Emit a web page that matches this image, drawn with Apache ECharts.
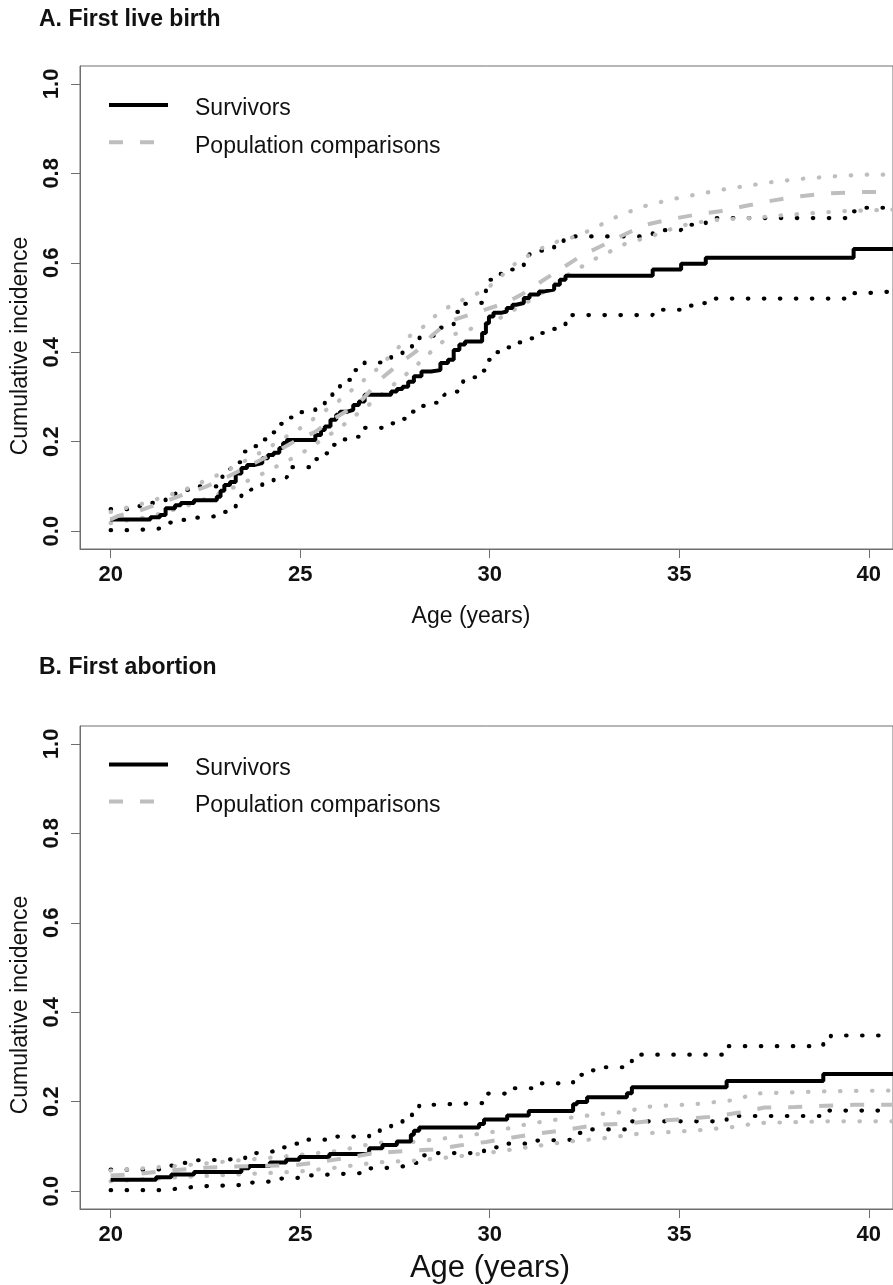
<!DOCTYPE html>
<html><head><meta charset="utf-8">
<script src="https://cdn.jsdelivr.net/npm/echarts@6/dist/echarts.min.js"></script>
<style>html,body{margin:0;padding:0;background:#fff}#c{width:893px;height:1285px}</style>
</head><body><div id="c"></div><script>
// ---- tick labels ----
const ageTicks = [20, 25, 30, 35, 40];
const incTicks = [0, 0.2, 0.4, 0.6, 0.8, 1.0];
const panelTitles = ['A. First live birth', 'B. First abortion'];
const seriesNames = ['Survivors', 'Population comparisons'];

// ---- Panel A: first live birth ----
const aSurvivors = [[20.0,0.026],[21.05,0.031],[21.3,0.036],[21.45,0.051],[21.7,0.058],[21.85,0.063],[22.2,0.069],[22.8,0.077],[22.9,0.090],[23.0,0.103],[23.15,0.110],[23.3,0.129],[23.45,0.141],[23.6,0.148],[23.8,0.152],[24.0,0.163],[24.15,0.170],[24.3,0.175],[24.45,0.186],[24.55,0.197],[24.65,0.204],[25.4,0.215],[25.55,0.226],[25.65,0.234],[25.8,0.249],[25.95,0.260],[26.05,0.267],[26.25,0.271],[26.4,0.282],[26.55,0.290],[26.7,0.305],[27.4,0.312],[27.55,0.318],[27.7,0.323],[27.85,0.334],[28.0,0.346],[28.2,0.357],[28.45,0.360],[28.7,0.376],[28.9,0.383],[29.05,0.405],[29.2,0.417],[29.35,0.424],[29.8,0.443],[29.9,0.465],[29.98,0.480],[30.1,0.488],[30.3,0.491],[30.45,0.499],[30.6,0.506],[30.7,0.510],[30.9,0.521],[31.05,0.529],[31.3,0.536],[31.45,0.540],[31.7,0.551],[31.85,0.562],[32.0,0.571],[34.3,0.585],[35.05,0.598],[35.7,0.611],[39.6,0.631],[40.64,0.631]];
const aSurvUpper = [[20.0,0.049],[20.7,0.056],[21.05,0.063],[21.45,0.078],[21.7,0.084],[21.85,0.092],[22.2,0.100],[22.8,0.108],[22.95,0.125],[23.15,0.140],[23.3,0.154],[23.45,0.178],[23.65,0.190],[23.9,0.205],[24.15,0.221],[24.45,0.240],[24.6,0.254],[24.85,0.266],[25.4,0.282],[25.65,0.301],[25.85,0.322],[26.05,0.338],[26.4,0.360],[26.7,0.377],[27.4,0.392],[27.7,0.402],[27.95,0.419],[28.15,0.437],[28.7,0.455],[29.05,0.490],[29.3,0.508],[29.35,0.511],[29.9,0.562],[30.1,0.575],[30.45,0.585],[30.7,0.594],[30.9,0.614],[31.05,0.627],[31.7,0.644],[31.95,0.659],[34.3,0.673],[35.05,0.685],[35.7,0.700],[39.6,0.715],[39.9,0.723],[40.64,0.723]];
const aSurvLower = [[20.0,0.002],[20.5,0.004],[21.0,0.006],[21.3,0.010],[21.45,0.019],[21.75,0.025],[22.1,0.030],[22.5,0.034],[22.8,0.043],[23.1,0.052],[23.3,0.069],[23.45,0.084],[23.7,0.093],[24.0,0.107],[24.3,0.120],[24.65,0.143],[25.4,0.161],[25.6,0.174],[25.8,0.193],[26.05,0.205],[26.4,0.211],[26.6,0.231],[27.4,0.241],[27.65,0.251],[27.9,0.267],[28.15,0.280],[28.5,0.287],[28.8,0.305],[29.1,0.312],[29.3,0.336],[29.55,0.344],[29.8,0.359],[29.95,0.383],[30.15,0.400],[30.45,0.411],[30.7,0.422],[31.0,0.431],[31.3,0.443],[31.55,0.452],[31.85,0.461],[32.0,0.483],[34.3,0.495],[35.05,0.504],[35.35,0.510],[35.7,0.520],[39.6,0.532],[39.9,0.536],[40.64,0.536]];
const aPopulation = [[20.0,0.026],[20.2,0.034],[20.8,0.047],[21.3,0.062],[21.9,0.081],[22.5,0.099],[23.1,0.122],[23.7,0.148],[24.3,0.174],[24.9,0.203],[25.4,0.222],[25.8,0.247],[26.27,0.271],[26.65,0.295],[27.1,0.338],[27.58,0.372],[28.06,0.402],[28.5,0.439],[28.93,0.469],[29.72,0.491],[30.42,0.510],[30.9,0.532],[31.43,0.562],[31.91,0.588],[32.4,0.615],[32.93,0.637],[33.5,0.661],[34.1,0.685],[34.76,0.697],[35.46,0.708],[36.07,0.715],[36.8,0.728],[37.45,0.739],[38.2,0.749],[38.92,0.755],[39.66,0.758],[40.64,0.758]];
const aPopUpper = [[20.0,0.043],[21.0,0.065],[22.0,0.094],[23.0,0.132],[24.0,0.178],[25.0,0.230],[26.0,0.290],[27.0,0.360],[27.9,0.437],[28.3,0.460],[28.66,0.489],[29.1,0.510],[29.5,0.525],[29.9,0.540],[30.3,0.570],[30.7,0.600],[31.3,0.630],[31.8,0.648],[32.36,0.661],[33.4,0.705],[34.05,0.726],[34.75,0.741],[35.46,0.753],[36.17,0.764],[36.86,0.773],[37.57,0.782],[38.27,0.788],[39.02,0.793],[39.81,0.797],[40.64,0.797]];
const aPopLower = [[20.0,0.018],[21.0,0.032],[22.0,0.056],[23.0,0.088],[24.0,0.128],[25.0,0.172],[26.0,0.228],[27.0,0.295],[28.0,0.365],[28.5,0.405],[28.95,0.437],[29.6,0.455],[30.2,0.473],[30.95,0.510],[31.6,0.545],[32.1,0.575],[32.74,0.607],[33.57,0.642],[34.32,0.661],[35.0,0.682],[35.8,0.695],[36.84,0.700],[38.0,0.708],[39.2,0.715],[40.64,0.719]];

// ---- Panel B: first abortion ----
const bSurvivors = [[20.0,0.0255],[21.2,0.031],[21.6,0.037],[22.2,0.043],[23.45,0.051],[23.65,0.056],[24.2,0.064],[24.63,0.070],[24.98,0.076],[25.77,0.083],[26.82,0.096],[27.17,0.103],[27.55,0.111],[27.92,0.126],[28.0,0.135],[28.14,0.142],[29.72,0.150],[29.85,0.160],[30.46,0.169],[31.03,0.179],[32.2,0.194],[32.3,0.199],[32.57,0.210],[33.62,0.219],[33.75,0.232],[36.25,0.246],[38.8,0.262],[40.64,0.262]];
const bSurvUpper = [[20.0,0.048],[21.2,0.050],[21.55,0.057],[21.85,0.063],[22.2,0.069],[22.55,0.072],[23.55,0.085],[23.95,0.089],[24.3,0.098],[24.65,0.106],[24.98,0.115],[25.77,0.122],[26.82,0.132],[27.1,0.142],[27.4,0.151],[27.7,0.161],[27.95,0.174],[28.14,0.193],[28.5,0.197],[29.85,0.218],[30.6,0.230],[31.3,0.241],[32.2,0.260],[32.5,0.270],[32.8,0.277],[33.55,0.285],[33.75,0.305],[36.25,0.324],[38.8,0.334],[39.0,0.348],[40.64,0.348]];
const bSurvLower = [[20.0,0.002],[21.2,0.004],[21.6,0.007],[21.95,0.0105],[22.3,0.014],[23.55,0.019],[23.9,0.022],[24.25,0.028],[24.63,0.030],[24.98,0.035],[25.4,0.037],[25.77,0.041],[26.82,0.051],[27.17,0.054],[27.55,0.057],[27.92,0.063],[28.14,0.080],[28.5,0.085],[29.85,0.098],[30.46,0.106],[31.03,0.113],[31.4,0.115],[32.2,0.118],[32.3,0.130],[32.57,0.138],[33.75,0.156],[36.25,0.168],[38.8,0.180],[40.64,0.180]];
const bPopulation = [[20.0,0.035],[20.8,0.039],[21.3,0.044],[22.4,0.052],[23.2,0.055],[24.85,0.058],[25.5,0.065],[26.2,0.074],[26.95,0.085],[27.7,0.089],[28.5,0.093],[29.2,0.102],[29.9,0.110],[30.6,0.120],[31.3,0.129],[32.0,0.137],[32.8,0.148],[33.6,0.151],[34.3,0.157],[35.0,0.160],[35.8,0.166],[36.55,0.175],[37.25,0.187],[38.05,0.188],[38.85,0.191],[39.6,0.193],[40.64,0.193]];
const bPopUpper = [[20.0,0.046],[21.0,0.052],[22.0,0.058],[23.0,0.066],[24.0,0.073],[25.0,0.081],[26.0,0.090],[27.0,0.108],[28.0,0.110],[29.0,0.120],[30.0,0.131],[31.0,0.150],[32.0,0.163],[33.0,0.173],[33.7,0.178],[34.0,0.188],[35.5,0.195],[36.6,0.205],[36.9,0.218],[38.8,0.223],[40.64,0.225]];
const bPopLower = [[20.0,0.022],[21.0,0.027],[22.0,0.032],[23.0,0.036],[24.0,0.040],[25.0,0.044],[26.0,0.053],[27.0,0.064],[28.0,0.068],[29.0,0.076],[30.0,0.086],[31.0,0.098],[32.0,0.110],[33.0,0.118],[33.9,0.128],[35.5,0.136],[36.65,0.145],[36.96,0.152],[38.9,0.156],[40.64,0.156]];

const FONT = '"Liberation Sans", Arial, Helvetica, sans-serif';
const GREY = '#bebebe';
const BOX = '#6e6e6e';

function makeSeries(idx, surv, su, sl, pop, pu, pl) {
  const dots = (c) => ({ color: c, width: 4.2, type: [0.5, 15.5], cap: 'round' });
  const common = { xAxisIndex: idx, yAxisIndex: idx, symbol: 'none', silent: true, animation: false };
  return [
    Object.assign({ type: 'line', name: 'CI ' + idx + ' su', data: su, step: 'end', lineStyle: dots('#000'), z: 2 }, common),
    Object.assign({ type: 'line', name: 'CI ' + idx + ' sl', data: sl, step: 'end', lineStyle: dots('#000'), z: 2 }, common),
    Object.assign({ type: 'line', name: 'CI ' + idx + ' pu', data: pu, lineStyle: dots(GREY), z: 3 }, common),
    Object.assign({ type: 'line', name: 'CI ' + idx + ' pl', data: pl, lineStyle: dots(GREY), z: 3 }, common),
    Object.assign({ type: 'line', name: seriesNames[0], data: surv, step: 'end', lineStyle: { color: '#000', width: 4 }, itemStyle: { color: '#000' }, z: 4 }, common),
    Object.assign({ type: 'line', name: seriesNames[1], data: pop, lineStyle: { color: GREY, width: 4, type: [14, 17] }, itemStyle: { color: GREY }, z: 5 }, common)
  ];
}

function xAx(idx) {
  return {
    gridIndex: idx, type: 'value', min: 19.192, max: 40.639, position: 'bottom',
    axisLine: { show: true, onZero: false, lineStyle: { color: BOX, width: 1 } }, splitLine: { show: false },
    axisTick: { show: true, length: 9, customValues: ageTicks, lineStyle: { color: BOX, width: 1 } },
    axisLabel: { customValues: ageTicks, margin: 15, color: '#111', fontSize: 22, fontWeight: 'bold', fontFamily: FONT }
  };
}
function yAx(idx) {
  return {
    gridIndex: idx, type: 'value', min: -0.04, max: 1.04, position: 'left',
    axisLine: { show: true, onZero: false, lineStyle: { color: BOX, width: 1 } }, splitLine: { show: false },
    axisTick: { show: true, length: 9, customValues: incTicks, lineStyle: { color: BOX, width: 1 } },
    axisLabel: { customValues: incTicks, rotate: 90, margin: 17, color: '#111', fontSize: 22, fontWeight: 'bold', fontFamily: FONT,
      formatter: (v) => v.toFixed(1) }
  };
}
function legendFor(top) {
  return {
    data: seriesNames, orient: 'vertical', left: 107, top: top, itemWidth: 59, itemHeight: 24, itemGap: 12,
    selectedMode: false, padding: 0,
    itemStyle: { opacity: 0 },
    lineStyle: { width: 4 },
    formatter: '{t|{name}}',
    textStyle: { fontSize: 23, fontFamily: FONT, color: '#111',
      rich: { t: { fontSize: 23, fontFamily: FONT, color: '#111', padding: [8, 0, 0, 22] } } }
  };
}

const option = {
  backgroundColor: '#fff',
  animation: false,
  title: [
    { text: panelTitles[0], left: 39, top: 8, padding: 0, textStyle: { fontSize: 23, fontWeight: 'bold', fontFamily: FONT, color: '#111' } },
    { text: panelTitles[1], left: 39, top: 656, padding: 0, textStyle: { fontSize: 23, fontWeight: 'bold', fontFamily: FONT, color: '#111' } }
  ],
  legend: [legendFor(95.5), legendFor(754.8)],
  grid: [
    { left: 80, top: 66, right: -2, height: 483, show: true, borderColor: BOX, borderWidth: 1, backgroundColor: 'transparent' },
    { left: 80, top: 726, right: -2, height: 483, show: true, borderColor: BOX, borderWidth: 1, backgroundColor: 'transparent' }
  ],
  xAxis: [xAx(0), xAx(1)],
  yAxis: [yAx(0), yAx(1)],
  graphic: [
    { type: 'text', x: 21, y: 346, rotation: Math.PI / 2, style: { text: 'Cumulative incidence', font: '23px ' + FONT, fill: '#111', align: 'center', verticalAlign: 'middle' } },
    { type: 'text', x: 21, y: 1005, rotation: Math.PI / 2, style: { text: 'Cumulative incidence', font: '23px ' + FONT, fill: '#111', align: 'center', verticalAlign: 'middle' } },
    { type: 'text', x: 471, y: 617, style: { text: 'Age (years)', font: '23px ' + FONT, fill: '#111', align: 'center', verticalAlign: 'middle' } },
    { type: 'text', x: 490, y: 1268, style: { text: 'Age (years)', font: '31px ' + FONT, fill: '#111', align: 'center', verticalAlign: 'middle' } }
  ],
  series: [].concat(
    makeSeries(0, aSurvivors, aSurvUpper, aSurvLower, aPopulation, aPopUpper, aPopLower),
    makeSeries(1, bSurvivors, bSurvUpper, bSurvLower, bPopulation, bPopUpper, bPopLower)
  )
};
const chart = echarts.init(document.getElementById('c'));
chart.setOption(option);
</script></body></html>
